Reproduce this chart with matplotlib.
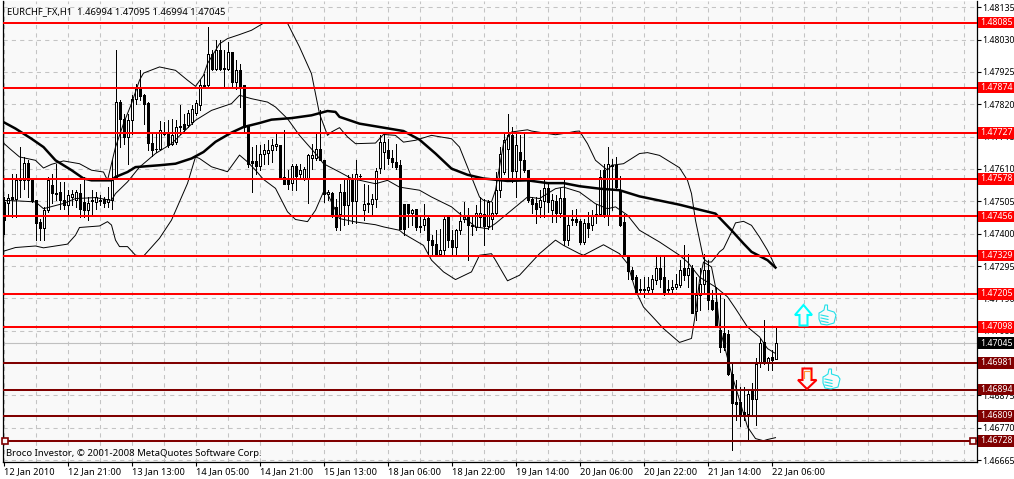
import numpy as np
import matplotlib
matplotlib.use('Agg')
from matplotlib import pyplot as plt
from matplotlib.patches import Polygon, Rectangle

plt.rcParams['font.family'] = ['Noto Sans', 'DejaVu Sans']

# candle prices, in 1e-5 units, one entry per hourly bar
opens = [147503,147498,147519,147511,147573,147575,147629,147575,147508,147438,
         147417,147476,147557,147532,147535,147510,147492,147519,147508,147532,
         147503,147478,147506,147504,147509,147514,147503,147508,147584,147827,
         147773,147714,147768,147836,147874,147849,147825,147695,147676,147675,
         147727,147727,147692,147698,147746,147755,147752,147762,147792,147816,
         147878,147881,147984,147935,147997,147938,147935,147989,147892,147932,
         147881,147748,147635,147635,147620,147660,147662,147671,147684,147687,
         147584,147575,147565,147619,147595,147579,147579,147644,147644,147674,
         147638,147530,147532,147487,147465,147535,147494,147579,147505,147586,
         147478,147501,147497,147514,147614,147665,147670,147647,147632,147622,
         147495,147495,147467,147479,147424,147427,147452,147379,147366,147335,
         147348,147456,147379,147357,147413,147446,147456,147424,147420,147454,
         147465,147424,147449,147467,147543,147600,147676,147719,147603,147665,
         147640,147608,147514,147500,147487,147506,147548,147478,147505,147467,
         147517,147381,147443,147449,147440,147373,147433,147427,147456,147463,
         147606,147456,147620,147622,147543,147438,147330,147283,147259,147220,
         147218,147218,147222,147251,147287,147259,147216,147222,147227,147232,
         147287,147267,147287,147149,147200,147238,147281,147184,147178,147087,
         147076,147073,146946,146854,146854,146822,146816,146892,146865,146981,
         147049,146984,147000,146994]
highs = [147519,147530,147595,147595,147681,147649,147638,147576,147508,147449,
         147487,147584,147595,147627,147568,147568,147541,147541,147541,147562,
         147584,147519,147541,147535,147525,147519,147552,147638,147997,147833,
         147789,147789,147849,147887,147930,147854,147827,147730,147725,147766,
         147762,147768,147773,147768,147816,147789,147800,147816,147833,147898,
         147919,148071,147995,148027,148029,147995,148022,147989,147962,147952,
         147881,147748,147681,147687,147687,147692,147703,147708,147725,147687,
         147735,147606,147627,147627,147627,147616,147660,147692,147730,147800,
         147638,147541,147535,147514,147560,147579,147590,147595,147640,147595,
         147562,147559,147530,147614,147719,147724,147708,147670,147692,147638,
         147497,147497,147481,147481,147454,147497,147454,147395,147413,147416,
         147454,147460,147411,147416,147470,147503,147484,147454,147492,147519,
         147514,147508,147503,147600,147681,147724,147787,147746,147724,147719,
         147724,147608,147519,147519,147541,147573,147568,147530,147524,147548,
         147573,147454,147476,147481,147449,147449,147470,147478,147497,147606,
         147625,147681,147643,147649,147586,147465,147330,147292,147265,147254,
         147259,147259,147265,147324,147324,147324,147249,147249,147270,147314,
         147362,147333,147297,147259,147287,147335,147314,147216,147227,147205,
         147189,147087,146984,146924,146903,146903,146892,146914,146995,147060,
         147119,147000,147022,147095]
lows = [147400,147465,147454,147454,147519,147546,147519,147503,147379,147379,
        147379,147470,147498,147508,147481,147481,147465,147492,147487,147454,
        147454,147443,147465,147481,147492,147487,147487,147481,147582,147681,
        147692,147627,147725,147822,147833,147757,147671,147651,147665,147673,
        147719,147681,147687,147692,147725,147730,147746,147757,147784,147800,
        147874,147874,147930,147930,147930,147878,147930,147876,147871,147811,
        147730,147616,147535,147595,147606,147627,147627,147633,147671,147579,
        147562,147546,147541,147541,147579,147573,147498,147611,147638,147638,
        147503,147508,147454,147411,147411,147427,147430,147433,147433,147582,
        147443,147470,147460,147487,147597,147611,147627,147616,147611,147416,
        147395,147422,147427,147411,147406,147411,147330,147330,147330,147330,
        147330,147357,147330,147330,147400,147438,147314,147395,147411,147422,
        147362,147416,147416,147465,147519,147595,147573,147568,147519,147584,
        147600,147503,147467,147435,147454,147454,147470,147438,147438,147454,
        147362,147362,147427,147427,147368,147368,147389,147411,147433,147456,
        147454,147427,147476,147541,147424,147330,147254,147249,147205,147205,
        147195,147205,147211,147238,147227,147200,147205,147211,147222,147227,
        147249,147227,147141,147119,147151,147205,147157,147151,147097,147016,
        147022,146941,146697,146795,146775,146795,146730,146816,146778,146968,
        146978,146957,146957,146994]
closes = [147444,147517,147511,147573,147575,147629,147575,147506,147435,147417,
          147476,147573,147532,147530,147508,147492,147527,147528,147535,147481,
          147478,147498,147508,147519,147507,147501,147513,147573,147827,147773,
          147714,147768,147836,147874,147846,147822,147694,147671,147674,147735,
          147725,147687,147719,147746,147748,147741,147792,147806,147824,147881,
          147881,147984,147935,147995,147935,147934,147989,147892,147932,147874,
          147746,147627,147630,147620,147660,147671,147671,147689,147690,147582,
          147562,147562,147619,147586,147608,147611,147654,147656,147674,147638,
          147530,147535,147460,147422,147535,147492,147579,147505,147595,147588,
          147497,147497,147514,147602,147697,147697,147647,147632,147616,147416,
          147416,147467,147478,147422,147420,147449,147379,147362,147335,147348,
          147449,147379,147357,147413,147441,147460,147427,147427,147468,147467,
          147424,147503,147467,147543,147660,147705,147719,147603,147687,147640,
          147606,147510,147497,147481,147510,147548,147503,147510,147467,147517,
          147381,147427,147449,147438,147373,147433,147419,147460,147463,147584,
          147456,147625,147624,147551,147427,147330,147279,147254,147211,147218,
          147220,147227,147254,147287,147254,147211,147222,147227,147238,147283,
          147265,147287,147143,147200,147238,147281,147184,147157,147097,147032,
          147032,146946,146851,146847,146816,146811,146881,146865,146978,147045,
          146981,146998,146989,147045]

# bollinger bands and the slow MA, read at the bars where they bend
upper_bars = [0,2,4,8,10,12,15,19,22,25,26,28,30,32,34,35,39,43,46,48,50,51,54,56,59,62,65,71,74,77,79,81,82,84,
              86,88,93,95,98,100,103,107,112,114,119,120,122,123,125,127,131,132,138,141,143,144,146,148,151,152,155,159,161,164,169,
              171,172,173,175,176,177,178,179,180,182,183,185,187,189,191,193]
upper_vals = [147694,147671,147649,147638,147613,147625,147636,147627,147606,147600,147573,147681,147757,147822,147898,147921,147941,147930,147898,147878,147914,147952,148016,148033,148046,148060,148083,148083,148006,147919,147789,147719,147730,147744,
              147714,147692,147694,147722,147719,147697,147703,147719,147708,147681,147519,147508,147503,147541,147692,147730,147737,147733,147721,147727,147732,147733,147692,147638,147606,147622,147627,147660,147663,147654,147614,
              147573,147530,147443,147319,147308,147308,147324,147341,147351,147405,147435,147440,147427,147389,147346,147292]
mid_bars = [0,4,8,10,15,18,23,27,28,31,34,38,42,45,48,52,57,59,62,66,68,71,74,78,80,84,
            87,93,96,99,104,107,112,114,118,121,123,127,131,134,138,140,144,148,151,153,156,159,164,169,
            171,174,178,181,183,186,189,191,193]
mid_vals = [147508,147506,147503,147481,147498,147514,147517,147508,147530,147568,147616,147660,147692,147730,147768,147800,147822,147849,147838,147827,147811,147773,147719,147660,147627,147600,
            147579,147562,147573,147551,147541,147519,147487,147465,147422,147416,147433,147476,147519,147514,147546,147551,147535,147497,147481,147487,147460,147411,147373,147330,
            147308,147259,147227,147195,147157,147097,147065,147027,147011]
lower_bars = [0,3,8,10,16,18,19,24,26,27,28,29,31,33,35,39,42,46,48,49,52,56,59,61,63,65,68,71,73,76,78,80,81,
              84,88,93,95,99,100,105,107,110,113,117,119,122,123,126,129,134,138,140,144,145,150,154,156,
              158,160,165,169,172,173,174,175,177,178,179,182,184,186,188,190,191,193]
lower_vals = [147343,147355,147360,147354,147366,147395,147420,147425,147439,147428,147379,147358,147358,147330,147327,147385,147444,147563,147649,147644,147617,147601,147655,147633,147606,147576,147547,147471,147446,147439,147476,147536,147530,
              147449,147438,147429,147422,147411,147400,147362,147314,147276,147251,147276,147330,147335,147314,147247,147265,147335,147379,147362,147335,147330,147364,147335,147303,
              147216,147162,147092,147047,147060,147141,147249,147308,147292,147227,147097,146946,146860,146773,146735,146728,146732,146738]
ma_bars = [0,3,7,10,13,17,20,22,27,28,31,33,36,39,43,47,50,53,57,60,64,67,72,77,81,83,84,
           89,95,100,104,108,112,116,120,126,131,136,140,144,149,154,159,169,
           173,178,180,182,185,187,191,193]
ma_vals = [147762,147741,147708,147681,147638,147606,147579,147573,147573,147584,147600,147616,147619,147622,147627,147644,147665,147698,147728,147746,147759,147770,147775,147784,147798,147795,147779,
           147757,147744,147733,147705,147660,147611,147591,147579,147571,147573,147564,147564,147554,147546,147541,147521,147494,
           147481,147465,147438,147411,147368,147341,147314,147290]

levels = [148085,147874,147727,147578,147456,147329,147205,147098,146981,146894,146809,146728]
level_colors = ['#ff0000']*8 + ['#800000']*4
level_labels = ['1.48085','1.47874','1.47727','1.47578','1.47456','1.47329','1.47205','1.47098','1.46981','1.46894','1.46809','1.46728']

last_price = 147045
price_ticks = [148135,148030,147925,147820,147715,147610,147505,147400,147295,147190,147085,146980,146875,146770,146665]
price_tick_labels = ['1.48135','1.48030','1.47925','1.47820','1.47715','1.47610','1.47505','1.47400','1.47295','1.47190','1.47085','1.46980','1.46875','1.46770','1.46665']

time_ticks = [0,16,32,48,64,80,96,112,128,144,160,176,192]
time_labels = ['12 Jan 2010','12 Jan 21:00','13 Jan 13:00','14 Jan 05:00','14 Jan 21:00','15 Jan 13:00','18 Jan 06:00',
               '18 Jan 22:00','19 Jan 14:00','20 Jan 06:00','20 Jan 22:00','21 Jan 14:00','22 Jan 06:00']

W, H = 1014, 479
fig = plt.figure(figsize=(W/100, H/100), dpi=100, facecolor='white')
ax = fig.add_axes([3/W, (H-462)/H, 974/W, 461/H], facecolor='#f9f9f9')
ax.set_xlim(-0.125, 243.375)
ax.set_ylim(146659, 148155)

o, h, l, c = map(np.array, (opens, highs, lows, closes))
bars = np.arange(len(o))

ax.vlines(bars, l, h, color='black', lw=0.7, antialiased=False, zorder=3)
up = c >= o
ax.bar(bars[up], (c-o)[up], bottom=o[up], width=0.5, facecolor='white', edgecolor='black', lw=0.7,
       antialiased=False, zorder=4)
ax.bar(bars[~up], (c-o)[~up], bottom=o[~up], width=0.5, facecolor='black', edgecolor='black', lw=0.7,
       antialiased=False, zorder=4)

ax.plot(upper_bars, upper_vals, color='black', lw=0.7, zorder=5)
ax.plot(mid_bars, mid_vals, color='black', lw=0.7, zorder=5)
ax.plot(lower_bars, lower_vals, color='black', lw=0.7, zorder=5)
ax.plot(ma_bars, ma_vals, color='black', lw=1.8, zorder=5)

ax.axhline(last_price, color='#c0c0c0', lw=0.8, zorder=2)
for p, col in zip(levels, level_colors):
    ax.axhline(p, color=col, lw=1.45, zorder=6)

# grid, every 8 bars and every price tick
ax.set_xticks(np.arange(0, 244, 8), minor=True)
ax.set_xticks(time_ticks)
ax.set_xticklabels(time_labels, ha='left', fontsize=6.7)
ax.set_yticks(price_ticks)
ax.set_yticklabels(price_tick_labels, fontsize=6.3)
ax.yaxis.tick_right()
ax.grid(True, which='both', color='#c4c4c4', lw=0.75, dashes=(4, 4))
ax.set_axisbelow(True)
ax.tick_params(axis='x', which='major', length=3, width=0.8, pad=1)
ax.tick_params(axis='x', which='minor', length=0)
ax.tick_params(axis='y', length=3, width=0.8, pad=1)
ax.spines['top'].set_visible(False)
for s in ('left', 'right', 'bottom'):
    ax.spines[s].set_linewidth(0.9)

# price boxes on the right edge
yt = ax.get_yaxis_transform()
def price_box(p, txt, col):
    ax.add_patch(Rectangle((1.0008, p-19), 0.04, 38, transform=yt, facecolor=col, edgecolor='none',
                           clip_on=False, zorder=7))
    ax.text(1.0036, p, txt, transform=yt, color='white', fontsize=6.3, va='center', ha='left',
            clip_on=False, zorder=8)

for p, txt, col in zip(levels, level_labels, level_colors):
    price_box(p, txt, col)
price_box(last_price, '1.47045', 'black')

ax.text(0.9, 148122, 'EURCHF_FX,H1  1.46994 1.47095 1.46994 1.47045', fontsize=6.8, va='center', ha='left', zorder=8)
ax.text(0.6, 146685, 'Broco Investor, \u00a9 2001-2008 MetaQuotes Software Corp.', fontsize=6.9, va='center',
        ha='left', zorder=8)

# hand drawn objects on the chart, placed in screen pixels
px = fig.add_axes([0, 0, 1, 1])
px.set_xlim(0, W)
px.set_ylim(H, 0)
px.axis('off')
px.patch.set_alpha(0)

px.add_patch(Polygon([(803.5,305),(812,315),(807.5,315),(807.5,325.5),(799.5,325.5),(799.5,315),(795,315)],
                     closed=True, facecolor='#f9f9f9', edgecolor='#00ffff', lw=1.5))
px.add_patch(Polygon([(802.5,368.5),(811.5,368.5),(811.5,380),(816.5,380),(807,389),(798,380),(802.5,380)],
                     closed=True, facecolor='#f9f9f9', edgecolor='#ff0000', lw=1.5))
px.plot([804,804,809.5,809.5], [378,370.5,370.5,378], color='#ff9933', lw=0.8)

def thumb(x, y):
    outline = [(0,8),(2,7),(5,5),(6,0),(8.5,0),(8.5,5),(15,7),(17,10),(16,14),(15,18),(8,20),(2,19),(0,14)]
    px.add_patch(Polygon([(x+a, y+b) for a, b in outline], closed=True, facecolor='#f9f9f9',
                         edgecolor='#22e0e8', lw=0.8))
    for b in (10, 13, 16):
        px.plot([x+2, x+9], [y+b, y+b+1.5], color='#22e0e8', lw=0.8)

thumb(819, 305)
thumb(823, 369)

for xs in (5, 973):
    px.plot([xs], [441], marker='s', ms=4, mfc='#f9f9f9', mec='#800000', mew=1.2, zorder=9)

fig.savefig('out.png', dpi=100)
